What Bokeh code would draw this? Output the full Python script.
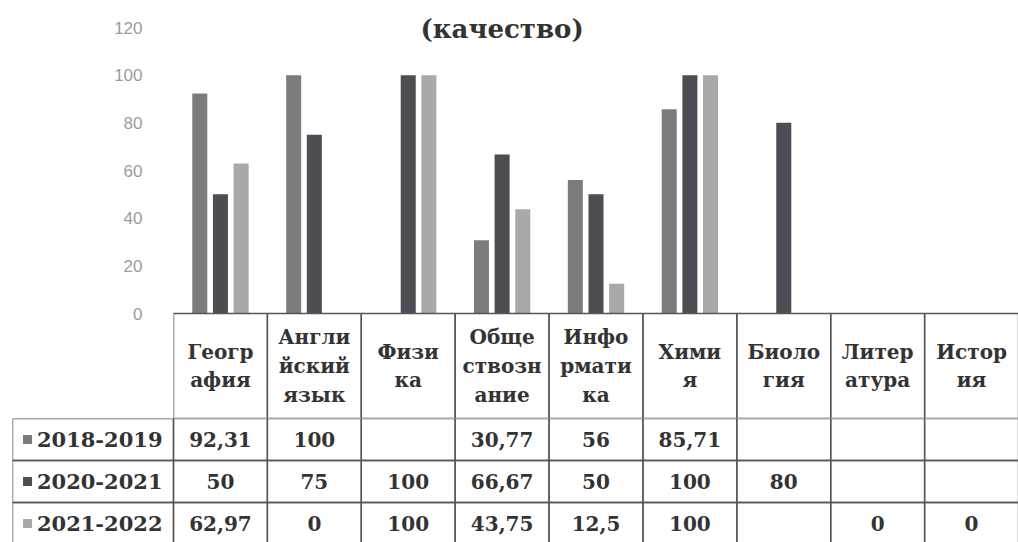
from bokeh.plotting import figure
from bokeh.layouts import column
from bokeh.models import Range1d, FixedTicker, Label
from bokeh.core.properties import value
from bokeh.embed import file_html
from bokeh.resources import INLINE

# ---------------- data ----------------
categories = ["География", "Английский язык", "Физика", "Обществознание",
              "Информатика", "Химия", "Биология", "Литература", "История"]
header_labels = ["Геогр\nафия", "Англи\nйский\nязык", "Физи\nка", "Обще\nствозн\nание",
                 "Инфо\nрмати\nка", "Хими\nя", "Биоло\nгия", "Литер\nатура", "Истор\nия"]
series_names = ["2018-2019", "2020-2021", "2021-2022"]
s_2018_2019 = [92.31, 100, None, 30.77, 56, 85.71, None, None, None]
s_2020_2021 = [50, 75, 100, 66.67, 50, 100, 80, None, None]
s_2021_2022 = [62.97, 0, 100, 43.75, 12.5, 100, None, 0, 0]
y_ticks = [0, 20, 40, 60, 80, 100, 120]
title_text = "(качество)"

series = [s_2018_2019, s_2020_2021, s_2021_2022]
colors = ["#7c7c7e", "#4d4d53", "#a9a9a9"]
offsets = [-0.22, 0.0, 0.22]

SERIF = "DejaVu Serif"
TXT = "#333333"
GRID = "#555555"

def fmt(v):
    return "" if v is None else f"{v:g}".replace(".", ",")

# ---------------- top figure: bars + header row ----------------
PX_PER_UNIT = 286 / 120.0
HEADER_PX = 105
y_low = -HEADER_PX / PX_PER_UNIT
y_high = 120 + 27 / PX_PER_UNIT
TOP_H = 313 + HEADER_PX

p = figure(width=1018, height=TOP_H, x_range=Range1d(0, len(categories)),
           y_range=Range1d(y_low, y_high), output_backend="svg", toolbar_location=None,
           min_border_left=173, min_border_right=0, min_border_top=0, min_border_bottom=0,
           frame_align=False)
p.outline_line_color = None
p.xaxis.visible = False
p.xgrid.grid_line_color = None
p.ygrid.grid_line_color = None
p.yaxis.ticker = FixedTicker(ticks=y_ticks)
p.yaxis.axis_line_color = None
p.yaxis.major_tick_line_color = None
p.yaxis.minor_tick_line_color = None
p.yaxis.major_label_text_color = "#9c9c9c"
p.yaxis.major_label_text_font = "Liberation Sans"
p.yaxis.major_label_text_font_size = "17px"
p.yaxis.major_label_standoff = 25

for vals, col, off, name in zip(series, colors, offsets, series_names):
    xs = [i + 0.5 + off for i, v in enumerate(vals) if v is not None]
    tops = [v for v in vals if v is not None]
    p.vbar(x=xs, top=tops, width=0.16, fill_color=col, line_color=None)

# header cells
n = len(categories)
p.quad(left=list(range(n)), right=[i + 1 for i in range(n)],
       top=[0] * n, bottom=[y_low] * n, fill_alpha=0, line_color=GRID, line_width=1.4)
p.text(x=[i + 0.5 for i in range(n)], y=[y_low / 2] * n, text=header_labels,
       text_align="center", text_baseline="middle", text_font=value(SERIF),
       text_font_style="bold", text_font_size="20px", text_color=TXT,
       text_line_height=1.2)

p.add_layout(Label(x=3.5, y=(313 - 28) / PX_PER_UNIT, text=title_text,
                   text_align="center", text_baseline="middle", text_font=SERIF,
                   text_font_style="bold", text_font_size="26px", text_color=TXT))

# ---------------- bottom figure: data rows ----------------
ROW_PX = 42
LEFT_W = 161 / (845 / 9.0)
H2 = 542 - TOP_H
t = figure(width=1018, height=H2, x_range=Range1d(-LEFT_W, n),
           y_range=Range1d(H2, 0), output_backend="svg", toolbar_location=None,
           min_border_left=12, min_border_right=0, min_border_top=0, min_border_bottom=0,
           frame_align=False)
t.outline_line_color = None
t.xaxis.visible = False
t.yaxis.visible = False
t.xgrid.grid_line_color = None
t.ygrid.grid_line_color = None

for r, (vals, col, name) in enumerate(zip(series, colors, series_names)):
    top = r * ROW_PX
    bot = top + ROW_PX
    mid = top + ROW_PX / 2
    lefts = [-LEFT_W] + list(range(n))
    rights = [0] + [i + 1 for i in range(n)]
    t.quad(left=lefts, right=rights, top=[top] * (n + 1), bottom=[bot] * (n + 1),
           fill_alpha=0, line_color=GRID, line_width=1.4)
    t.scatter(x=[-LEFT_W + 0.16], y=[mid], marker="square", size=9,
              fill_color=col, line_color=None)
    t.text(x=[-LEFT_W + 0.26], y=[mid], text=[name], text_align="left",
           text_baseline="middle", text_font=value(SERIF), text_font_style="bold",
           text_font_size="21px", text_color=TXT)
    t.text(x=[i + 0.5 for i in range(n)], y=[mid] * n, text=[fmt(v) for v in vals],
           text_align="center", text_baseline="middle", text_font=value(SERIF),
           text_font_style="bold", text_font_size="20px", text_color=TXT)

layout = column(p, t, spacing=0)
open("out.html", "w").write(file_html(layout, INLINE))
